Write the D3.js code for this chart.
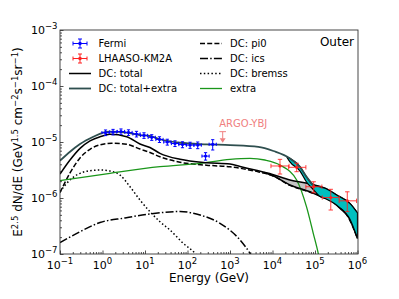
<!DOCTYPE html>
<html>
<head>
<meta charset="utf-8">
<script src="https://cdn.jsdelivr.net/npm/d3@7"></script>
<style>
  body { margin: 0; background: #fff; }
  svg { font-family: "DejaVu Sans", sans-serif; }
</style>
</head>
<body>
<svg id="chart"></svg>
<script>
// Data
// ------------------------------------------
// Fermi points
var fermiE = [1.18, 1.77, 2.72, 4.09, 6.31, 9.47, 14.4, 21.9, 33.5, 50.8, 76.2, 115, 174, 266, 392];
var fermiFlux = [1.47e-5, 1.51e-5, 1.54e-5, 1.48e-5, 1.39e-5, 1.31e-5, 1.21e-5, 1.11e-5, 1.0e-5, 9.4e-6, 9.0e-6, 8.8e-6, 8.8e-6, 5.6e-6, 9.1e-6];
var fermiErr = [1.7e-6, 1.7e-6, 1.7e-6, 1.7e-6, 1.6e-6, 1.5e-6, 1.4e-6, 1.3e-6, 1.2e-6, 1.1e-6, 1.1e-6, 1.1e-6, 1.2e-6, 0.85e-6, 1.9e-6];
var fermiHalfBin = 0.085; // dex

// LHAASO-KM2A points
var lhaasoE = [1.5e4, 3.7e4, 9.3e4, 2.35e5, 5.75e5];
var lhaasoElo = [9.2e3, 2.4e4, 6.1e4, 1.48e5, 3.7e5];
var lhaasoEhi = [2.45e4, 6.1e4, 1.45e5, 3.7e5, 9.5e5];
var lhaasoFlux = [3.73e-6, 3.53e-6, 1.59e-6, 1.02e-6, 8.9e-7];
var lhaasoLo = [2.68e-6, 2.95e-6, 1.24e-6, 6.1e-7, 5.7e-7];
var lhaasoHi = [4.9e-6, 4.17e-6, 1.95e-6, 1.43e-6, 1.29e-6];

// ARGO-YBJ upper limit
var argoE = 673;
var argoFlux = 1.53e-5;

// model curves
var totalE = [0.1, 0.172, 0.296, 0.508, 0.873, 1.5, 3.71, 7.62, 13.1, 22.5, 66.7, 282, 1000, 1720, 3870, 1.0e4, 2.57e4, 7.6e4, 1.72e5, 3.24e5, 6.6e5, 1e6];
var totalF = [2.68e-6, 4.77e-6, 7.7e-6, 1.05e-5, 1.24e-5, 1.37e-5, 1.24e-5, 9.2e-6, 7.97e-6, 6.28e-6, 4.9e-6, 4.26e-6, 4.04e-6, 3.65e-6, 3.16e-6, 2.63e-6, 2.1e-6, 1.78e-6, 1.49e-6, 1.13e-6, 8.0e-7, 5.4e-7];

var totalLowE = [6310, 1e4, 2.57e4, 7.6e4, 1.26e5, 2.51e5, 3.89e5, 6.3e5, 1e6];
var totalLowF = [2.86e-6, 2.52e-6, 1.71e-6, 1.29e-6, 1.09e-6, 8.8e-7, 6.5e-7, 4.4e-7, 1.9e-7];

var pi0E = [0.1, 0.172, 0.296, 0.508, 0.873, 1.64, 3.71, 7.62, 13.1, 22.5, 66.7, 282, 1000, 3870, 1e4, 2.57e4, 7.6e4, 2.51e5, 6.3e5, 1e6];
var pi0F = [1.25e-6, 2.8e-6, 5.2e-6, 7.4e-6, 8.9e-6, 9.5e-6, 9.1e-6, 7.5e-6, 6.5e-6, 5.45e-6, 4.35e-6, 3.85e-6, 3.6e-6, 3.02e-6, 2.5e-6, 1.68e-6, 1.27e-6, 8.7e-7, 4.3e-7, 1.9e-7];

var icsE = [0.1, 0.296, 0.873, 3.38, 13.1, 66.7, 197, 582, 1720, 2950, 5000];
var icsF = [1.6e-7, 2.5e-7, 3.65e-7, 4.4e-7, 5.18e-7, 5.74e-7, 4.97e-7, 3.53e-7, 1.78e-7, 1.03e-7, 5e-8];

var bremE = [0.1, 0.172, 0.296, 0.508, 0.873, 1.5, 2.58, 4.44, 7.62, 13.1, 22.5, 38.7, 79.4, 150, 250];
var bremF = [1.3e-6, 2.1e-6, 2.76e-6, 3.07e-6, 3.16e-6, 3.03e-6, 2.57e-6, 1.59e-6, 9.2e-7, 5.7e-7, 3.77e-7, 2.68e-7, 1.55e-7, 1.03e-7, 6e-8];

var extraE = [0.1, 1.5, 22.5, 197, 1000, 2950, 6610, 1.5e4, 3.7e4, 6.3e4, 9.1e4, 1.2e5, 1.5e5];
var extraF = [2.04e-6, 2.76e-6, 3.62e-6, 4.17e-6, 4.9e-6, 5.1e-6, 4.77e-6, 3.88e-6, 2.1e-6, 7.0e-7, 2.34e-7, 1.0e-7, 4e-8];

var tealE = [0.1, 0.172, 0.296, 0.608, 1.04, 1.5, 3.71, 7.62, 13.1, 22.5, 66.7, 282, 1000, 4645, 1.05e4, 2.57e4, 4.44e4, 6.3e4, 9.1e4];
var tealF = [4.63e-6, 6.7e-6, 9.2e-6, 1.24e-5, 1.47e-5, 1.53e-5, 1.47e-5, 1.33e-5, 1.28e-5, 1.12e-5, 9.7e-6, 9.1e-6, 8.8e-6, 8.2e-6, 6.9e-6, 5.1e-6, 3.6e-6, 2.4e-6, 1.7e-6];

// bands
var grayE = [6310, 1e4, 2.57e4, 7.6e4, 1.26e5, 1.72e5, 2.51e5, 3.24e5];
var grayHi = [2.88e-6, 2.63e-6, 2.1e-6, 1.78e-6, 1.6e-6, 1.49e-6, 1.3e-6, 1.13e-6];
var grayLo = [2.86e-6, 2.52e-6, 1.71e-6, 1.29e-6, 1.09e-6, 9.8e-7, 8.8e-7, 7.4e-7];

var cyanE = [2.2e4, 2.57e4, 4.44e4, 6.3e4, 9.1e4, 1.26e5, 1.72e5, 3.24e5, 6.6e5, 1e6];
var cyanHi = [5.4e-6, 5.1e-6, 3.6e-6, 2.4e-6, 1.7e-6, 1.6e-6, 1.49e-6, 1.13e-6, 8.0e-7, 5.4e-7];
var cyanLo = [5.3e-6, 4.4e-6, 3.03e-6, 1.93e-6, 1.42e-6, 1.09e-6, 9.8e-7, 7.4e-7, 4.2e-7, 1.9e-7];

// ticks
var xTicks = [1e-1, 1e0, 1e1, 1e2, 1e3, 1e4, 1e5, 1e6];
var xTickExp = ["\u22121", "0", "1", "2", "3", "4", "5", "6"];
var yTicks = [1e-7, 1e-6, 1e-5, 1e-4, 1e-3];
var yTickExp = ["\u22127", "\u22126", "\u22125", "\u22124", "\u22123"];

// Set up chart
// ------------------------------------------
var svgWidth = 399;
var svgHeight = 299;
var margin = { top: 30, right: 41, bottom: 45, left: 60 };
var width = svgWidth - margin.left - margin.right;
var height = svgHeight - margin.top - margin.bottom;

var svg = d3.select("#chart")
  .attr("width", svgWidth)
  .attr("height", svgHeight);

var chartGroup = svg.append("g")
  .attr("transform", `translate(${margin.left},${margin.top})`);

chartGroup.append("clipPath").attr("id", "plotclip")
  .append("rect").attr("width", width).attr("height", height);

var xScale = d3.scaleLog().domain([1e-1, 1e6]).range([0, width - 0.5]);
var yScale = d3.scaleLog().domain([1e-7, 1e-3]).range([height, 0]);

// minor ticks
var xMinor = [], yMinor = [];
for (var p = -1; p < 6; p++) for (var k = 2; k < 10; k++) xMinor.push(k * Math.pow(10, p));
for (var q = -7; q < -3; q++) for (var k2 = 2; k2 < 10; k2++) yMinor.push(k2 * Math.pow(10, q));

function styleAxis(g) {
  g.select(".domain").remove();
  g.selectAll("line").attr("stroke", "#222").attr("stroke-width", 0.8);
  g.selectAll("text").remove();
}

chartGroup.append("g").attr("transform", `translate(0,${height})`)
  .call(d3.axisBottom(xScale).tickValues(xMinor).tickSize(-2).tickSizeOuter(0)).call(styleAxis);
chartGroup.append("g").attr("transform", `translate(0,${height})`)
  .call(d3.axisBottom(xScale).tickValues(xTicks).tickSize(-3.5).tickSizeOuter(0)).call(styleAxis);
chartGroup.append("g")
  .call(d3.axisLeft(yScale).tickValues(yMinor).tickSize(-2).tickSizeOuter(0)).call(styleAxis);
chartGroup.append("g")
  .call(d3.axisLeft(yScale).tickValues(yTicks).tickSize(-3.5).tickSizeOuter(0)).call(styleAxis);

// tick labels
xTicks.forEach(function(t, i) {
  var txt = chartGroup.append("text")
    .attr("x", xScale(t)).attr("y", height + 15)
    .attr("text-anchor", "middle").attr("font-size", 11).attr("fill", "#000");
  txt.append("tspan").text("10");
  txt.append("tspan").attr("dy", -5).attr("font-size", 8.5).text(xTickExp[i]);
});
yTicks.forEach(function(t, i) {
  var txt = chartGroup.append("text")
    .attr("x", -2.5).attr("y", yScale(t) + 4)
    .attr("text-anchor", "end").attr("font-size", 11).attr("fill", "#000");
  txt.append("tspan").text("10");
  txt.append("tspan").attr("dy", -5).attr("font-size", 8.5).text(yTickExp[i]);
});

// axis titles
chartGroup.append("text")
  .attr("x", width / 2).attr("y", height + 28)
  .attr("text-anchor", "middle").attr("font-size", 12)
  .text("Energy (GeV)");

var ylab = svg.append("text")
  .attr("transform", "translate(22,142) rotate(-90)")
  .attr("text-anchor", "middle").attr("font-size", 12);
ylab.append("tspan").text("E");
ylab.append("tspan").attr("dy", -4.5).attr("font-size", 8.5).text("2.5");
ylab.append("tspan").attr("dy", 4.5).text(" dN/dE (GeV");
ylab.append("tspan").attr("dy", -4.5).attr("font-size", 8.5).text("1.5");
ylab.append("tspan").attr("dy", 4.5).text(" cm");
ylab.append("tspan").attr("dy", -4.5).attr("font-size", 8.5).text("\u22122");
ylab.append("tspan").attr("dy", 4.5).text("s");
ylab.append("tspan").attr("dy", -4.5).attr("font-size", 8.5).text("\u22121");
ylab.append("tspan").attr("dy", 4.5).text("sr");
ylab.append("tspan").attr("dy", -4.5).attr("font-size", 8.5).text("\u22121");
ylab.append("tspan").attr("dy", 4.5).text(")");

// curves
var plot = chartGroup.append("g").attr("clip-path", "url(#plotclip)");

var line = d3.line()
  .x(d => xScale(d[0]))
  .y(d => yScale(d[1]))
  .curve(d3.curveMonotoneX);

var band = d3.area()
  .x(d => xScale(d[0]))
  .y0(d => yScale(d[1]))
  .y1(d => yScale(d[2]))
  .curve(d3.curveMonotoneX);

plot.append("path").datum(d3.zip(grayE, grayLo, grayHi))
  .attr("d", band).attr("fill", "#c4c4c4").attr("stroke", "none");

plot.append("path").datum(d3.zip(icsE, icsF))
  .attr("d", line).attr("fill", "none").attr("stroke", "#000")
  .attr("stroke-width", 1.5).attr("stroke-dasharray", "8,2.2,1.5,2.2");
plot.append("path").datum(d3.zip(bremE, bremF))
  .attr("d", line).attr("fill", "none").attr("stroke", "#000")
  .attr("stroke-width", 1.5).attr("stroke-dasharray", "1.5,2.3");
plot.append("path").datum(d3.zip(pi0E, pi0F))
  .attr("d", line).attr("fill", "none").attr("stroke", "#000")
  .attr("stroke-width", 1.5).attr("stroke-dasharray", "5,2.2");
plot.append("path").datum(d3.zip(extraE, extraF))
  .attr("d", line).attr("fill", "none").attr("stroke", "#1a961a")
  .attr("stroke-width", 1.3);
plot.append("path").datum(d3.zip(totalE, totalF))
  .attr("d", line).attr("fill", "none").attr("stroke", "#000")
  .attr("stroke-width", 1.5);
plot.append("path").datum(d3.zip(totalLowE, totalLowF))
  .attr("d", line).attr("fill", "none").attr("stroke", "#000")
  .attr("stroke-width", 1.5);

plot.append("path").datum(d3.zip(cyanE, cyanLo, cyanHi))
  .attr("d", band).attr("fill", "#00bfbf").attr("stroke", "#000")
  .attr("stroke-width", 1.2);

plot.append("path").datum(d3.zip(tealE, tealF))
  .attr("d", line).attr("fill", "none").attr("stroke", "#2f4f4f")
  .attr("stroke-width", 1.8);

// Fermi points
var fermi = plot.append("g").attr("stroke", "blue").attr("stroke-width", 1);
fermiE.forEach(function(e, i) {
  var cx = xScale(e), cy = yScale(fermiFlux[i]);
  var x0 = xScale(e / Math.pow(10, fermiHalfBin)), x1 = xScale(e * Math.pow(10, fermiHalfBin));
  var y0 = yScale(fermiFlux[i] - fermiErr[i]), y1 = yScale(fermiFlux[i] + fermiErr[i]);
  fermi.append("line").attr("x1", x0).attr("x2", x1).attr("y1", cy).attr("y2", cy);
  fermi.append("line").attr("x1", cx).attr("x2", cx).attr("y1", y0).attr("y2", y1);
  [y0, y1].forEach(y => fermi.append("line").attr("x1", cx - 1.6).attr("x2", cx + 1.6).attr("y1", y).attr("y2", y));
  [x0, x1].forEach(x => fermi.append("line").attr("x1", x).attr("x2", x).attr("y1", cy - 1.6).attr("y2", cy + 1.6));
  fermi.append("circle").attr("cx", cx).attr("cy", cy).attr("r", 1.6).attr("fill", "blue").attr("stroke", "none");
});

// LHAASO points
var lhaaso = plot.append("g").attr("stroke", "#ff2020").attr("stroke-opacity", 0.85).attr("stroke-width", 1);
lhaasoE.forEach(function(e, i) {
  var cx = xScale(e), cy = yScale(lhaasoFlux[i]);
  var x0 = xScale(lhaasoElo[i]), x1 = xScale(lhaasoEhi[i]);
  var y0 = yScale(lhaasoLo[i]), y1 = yScale(lhaasoHi[i]);
  lhaaso.append("line").attr("x1", x0).attr("x2", x1).attr("y1", cy).attr("y2", cy);
  lhaaso.append("line").attr("x1", cx).attr("x2", cx).attr("y1", y0).attr("y2", y1);
  [y0, y1].forEach(y => lhaaso.append("line").attr("x1", cx - 2.2).attr("x2", cx + 2.2).attr("y1", y).attr("y2", y));
  [x0, x1].forEach(x => lhaaso.append("line").attr("x1", x).attr("x2", x).attr("y1", cy - 2.2).attr("y2", cy + 2.2));
  lhaaso.append("circle").attr("cx", cx).attr("cy", cy).attr("r", 1.6).attr("fill", "#ff2020").attr("stroke", "none");
});

// ARGO-YBJ upper limit
var ax = xScale(argoE), ay = yScale(argoFlux);
var argo = chartGroup.append("g").attr("stroke", "#f08080").attr("fill", "#f08080");
argo.append("line").attr("x1", ax - 3.3).attr("x2", ax + 3.3).attr("y1", ay).attr("y2", ay).attr("stroke-width", 1);
argo.append("line").attr("x1", ax).attr("x2", ax).attr("y1", ay).attr("y2", ay + 7).attr("stroke-width", 1);
argo.append("path").attr("stroke", "none")
  .attr("d", `M${ax - 3},${ay + 6.5}L${ax + 3},${ay + 6.5}L${ax},${ay + 11}Z`);
chartGroup.append("text")
  .attr("x", ax - 3.5).attr("y", ay - 4.5)
  .attr("font-size", 10).attr("fill", "#f08080")
  .text("ARGO-YBJ");

// frame
chartGroup.append("rect")
  .attr("width", width).attr("height", height)
  .attr("fill", "none").attr("stroke", "#333").attr("stroke-width", 0.9);

// legend
var legendRows = [43.5, 58.5, 73.5, 88.5];
function legendText(x, y, s) {
  svg.append("text").attr("x", x).attr("y", y + 3.6).attr("font-size", 10).text(s);
}
function errHandle(y, color) {
  var g = svg.append("g").attr("stroke", color).attr("stroke-width", 1);
  g.append("line").attr("x1", 73).attr("x2", 87).attr("y1", y).attr("y2", y);
  g.append("line").attr("x1", 80).attr("x2", 80).attr("y1", y - 4.5).attr("y2", y + 4.5);
  g.append("line").attr("x1", 78).attr("x2", 82).attr("y1", y - 4.5).attr("y2", y - 4.5);
  g.append("line").attr("x1", 78).attr("x2", 82).attr("y1", y + 4.5).attr("y2", y + 4.5);
  g.append("line").attr("x1", 73).attr("x2", 73).attr("y1", y - 2).attr("y2", y + 2);
  g.append("line").attr("x1", 87).attr("x2", 87).attr("y1", y - 2).attr("y2", y + 2);
  g.append("circle").attr("cx", 80).attr("cy", y).attr("r", 1.8).attr("fill", color).attr("stroke", "none");
}
function lineHandle(x, y, color, dash, w) {
  svg.append("line").attr("x1", x).attr("x2", x + 22).attr("y1", y).attr("y2", y)
    .attr("stroke", color).attr("stroke-width", w).attr("stroke-dasharray", dash);
}
errHandle(legendRows[0], "blue");
legendText(98.5, legendRows[0], "Fermi");
errHandle(legendRows[1], "#ff2020");
legendText(98.5, legendRows[1], "LHAASO-KM2A");
lineHandle(69, legendRows[2], "#000", null, 1.5);
legendText(98.5, legendRows[2], "DC: total");
lineHandle(69, legendRows[3], "#2f4f4f", null, 1.8);
legendText(98.5, legendRows[3], "DC: total+extra");

lineHandle(200, legendRows[0], "#000", "5,2.2", 1.5);
legendText(230, legendRows[0], "DC: pi0");
lineHandle(200, legendRows[1], "#000", "8,2.2,1.5,2.2", 1.5);
legendText(230, legendRows[1], "DC: ics");
lineHandle(200, legendRows[2], "#000", "1.5,2.3", 1.5);
legendText(230, legendRows[2], "DC: bremss");
lineHandle(200, legendRows[3], "#1a961a", null, 1.3);
legendText(230, legendRows[3], "extra");

svg.append("text").attr("x", 354).attr("y", 46)
  .attr("text-anchor", "end").attr("font-size", 12).text("Outer");
</script>
</body>
</html>
